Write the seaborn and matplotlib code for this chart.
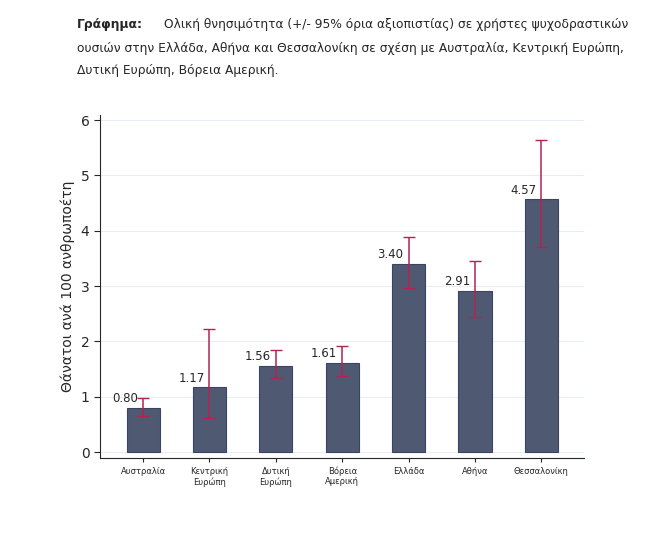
import numpy as np
import pandas as pd
import matplotlib
matplotlib.use("Agg")
import matplotlib.pyplot as plt
import seaborn as sns

regions = ["Αυστραλία", "Κεντρική\nΕυρώπη", "Δυτική\nΕυρώπη", "Βόρεια\nΑμερική", "Ελλάδα", "Αθήνα", "Θεσσαλονίκη"]
rate = [0.80, 1.17, 1.56, 1.61, 3.40, 2.91, 4.57]
ci_low = [0.65, 0.62, 1.33, 1.37, 2.97, 2.45, 3.70]
ci_high = [0.97, 2.23, 1.84, 1.91, 3.89, 3.46, 5.65]

df = pd.DataFrame({"region": regions, "rate": rate})

sns.set_style("white")
plt.rcParams["font.family"] = ["DejaVu Sans"]
fig = plt.figure(figsize=(6.71, 5.46), dpi=100)
ax = fig.add_axes([0.149, 0.162, 0.722, 0.628])

sns.barplot(data=df, x="region", y="rate", color="#4b5677", width=0.5,
            edgecolor="#3a4463", linewidth=0.8, ax=ax)
x = np.arange(len(regions))
lo = np.array(rate) - np.array(ci_low)
hi = np.array(ci_high) - np.array(rate)
ax.errorbar(x, rate, yerr=[lo, hi], fmt="none", ecolor="#b3234f", elinewidth=1.1, capsize=4)
for xi, r in zip(x, rate):
    ax.text(xi - 0.27, r + 0.05, f"{r:.2f}", ha="center", va="bottom", fontsize=8.5)

ax.set_ylim(-0.1, 6.1)
ax.set_xlim(-0.65, 6.65)
ax.set_yticks(range(7))
ax.yaxis.grid(True, color="#e8eef2", linewidth=0.8)
ax.set_axisbelow(True)
ax.tick_params(axis="y", labelsize=10, length=4, left=True)
ax.tick_params(axis="x", labelsize=6, length=3, bottom=True)
ax.set_xlabel("")
ax.set_ylabel("Θάνατοι ανά 100 ανθρωποέτη", fontsize=10)
for s in ["top", "right"]:
    ax.spines[s].set_visible(False)

fig.text(0.115, 0.955, "Γράφημα:", fontsize=8.8, va="center", fontweight="bold")
fig.text(0.245, 0.955, "Ολική θνησιμότητα (+/- 95% όρια αξιοπιστίας) σε χρήστες ψυχοδραστικών",
         fontsize=8.8, va="center")
fig.text(0.115, 0.912, "ουσιών στην Ελλάδα, Αθήνα και Θεσσαλονίκη σε σχέση με Αυστραλία, Κεντρική Ευρώπη,",
         fontsize=8.8, va="center")
fig.text(0.115, 0.87, "Δυτική Ευρώπη, Βόρεια Αμερική.", fontsize=8.8, va="center")

fig.savefig("out.png", dpi=100)
